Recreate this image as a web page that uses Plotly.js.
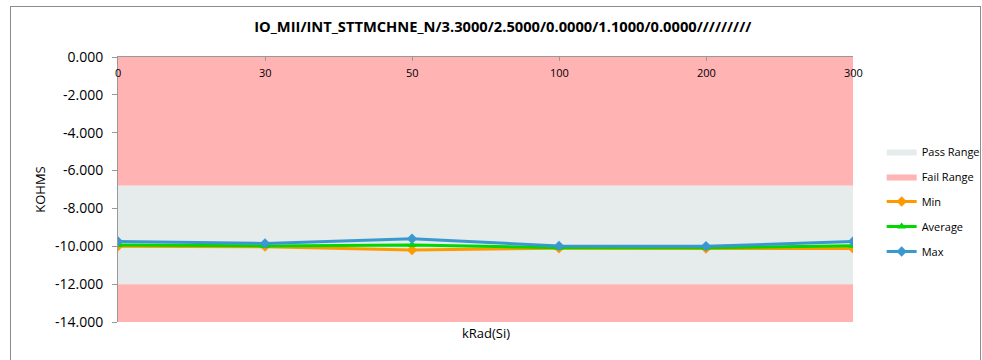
<!DOCTYPE html>
<html>
<head>
<meta charset="utf-8">
<script src="https://cdn.plot.ly/plotly-3.0.1.min.js"></script>
<style>
  html, body { margin: 0; padding: 0; background: #fff; }
  #wrap { position: relative; width: 982px; height: 360px; overflow: hidden; }
  #chart { position: absolute; left: 0; top: 0; width: 982px; height: 360px; }
  #frame { position: absolute; left: 10px; top: 6px; width: 969px; height: 400px; border: 1px solid #8c8c8c; pointer-events: none; }
</style>
</head>
<body>
<div id="wrap">
  <div id="chart"></div>
  <div id="frame"></div>
</div>
<script>
// ---- data ----
const categories = ['0', '30', '50', '100', '200', '300'];
const minValues = [-10.00, -10.02, -10.20, -10.10, -10.12, -10.12];
const avgValues = [-9.93, -9.98, -9.93, -10.08, -10.08, -9.97];
const maxValues = [-9.75, -9.85, -9.60, -9.98, -10.00, -9.75];
const failTop = [0, 0, 0, 0, 0, 0];
const passUpper = [-6.8, -6.8, -6.8, -6.8, -6.8, -6.8];
const passLower = [-12, -12, -12, -12, -12, -12];
const failBottom = [-14, -14, -14, -14, -14, -14];
const yTickVals = [0, -2, -4, -6, -8, -10, -12, -14];
const yTickText = ['0.000', '-2.000', '-4.000', '-6.000', '-8.000', '-10.000', '-12.000', '-14.000'];
const chartTitle = 'IO_MII/INT_STTMCHNE_N/3.3000/2.5000/0.0000/1.1000/0.0000/////////';

const passColor = '#E6EBEB';
const failColor = '#FFB3B3';
const FONT = 'Open Sans, sans-serif';

const traces = [
  { x: categories, y: failTop, mode: 'lines', line: { width: 0, color: failColor }, type: 'scatter', showlegend: false, hoverinfo: 'skip' },
  { x: categories, y: passUpper, mode: 'lines', line: { width: 0, color: failColor }, type: 'scatter', fill: 'tonexty', fillcolor: failColor,
    name: 'Fail Range', legendgroup: 'b', legendrank: 2, hoverinfo: 'skip' },
  { x: categories, y: passLower, mode: 'lines', line: { width: 0, color: passColor }, type: 'scatter', fill: 'tonexty', fillcolor: passColor,
    name: 'Pass Range', legendgroup: 'a', legendrank: 1, hoverinfo: 'skip' },
  { x: categories, y: failBottom, mode: 'lines', line: { width: 0, color: failColor }, type: 'scatter', fill: 'tonexty', fillcolor: failColor,
    showlegend: false, legendgroup: 'b', hoverinfo: 'skip' },
  { x: categories, y: minValues, mode: 'lines+markers', type: 'scatter', name: 'Min', legendgroup: 'c', legendrank: 3,
    line: { color: '#FF9900', width: 3 }, marker: { symbol: 'diamond', size: 8, color: '#FF9900' } },
  { x: categories, y: avgValues, mode: 'lines+markers', type: 'scatter', name: 'Average', legendgroup: 'd', legendrank: 4,
    line: { color: '#00D800', width: 3 }, marker: { symbol: 'triangle-up', size: 8, color: '#00D800' } },
  { x: categories, y: maxValues, mode: 'lines+markers', type: 'scatter', name: 'Max', legendgroup: 'e', legendrank: 5,
    line: { color: '#3A98D0', width: 3 }, marker: { symbol: 'diamond', size: 8, color: '#3A98D0' } }
];

// category tick labels drawn just below the top axis line (category index positions)
const catLabels = categories.map((c, i) => ({
  text: c, xref: 'x', yref: 'y', x: i, y: 0, yshift: -6, xanchor: 'center', yanchor: 'top',
  showarrow: false, font: { family: FONT, size: 11, color: '#000' }
}));

const layout = {
  width: 982, height: 360,
  margin: { l: 118, r: 129, t: 57, b: 38, autoexpand: false },
  paper_bgcolor: '#ffffff',
  plot_bgcolor: '#ffffff',
  font: { family: FONT, size: 12, color: '#000' },
  showlegend: true,
  title: { text: '<b>' + chartTitle + '</b>', font: { family: FONT, size: 14.7, color: '#000' },
           x: 0.512, xanchor: 'center', y: 0.925, yanchor: 'middle' },
  xaxis: {
    type: 'category', range: [0, 5], side: 'top',
    showticklabels: false, ticks: 'inside', ticklen: 4, tickcolor: '#999',
    showline: true, linecolor: '#999', linewidth: 1, showgrid: false, zeroline: false,
    fixedrange: true
  },
  yaxis: {
    range: [-14, 0], tickvals: yTickVals, ticktext: yTickText,
    ticks: 'outside', ticklen: 5, tickcolor: '#999', ticklabelstandoff: 6,
    showline: true, linecolor: '#999', linewidth: 1, showgrid: false, zeroline: false,
    tickfont: { family: FONT, size: 14, color: '#000' },
    title: { text: 'KOHMS', font: { family: FONT, size: 13, color: '#000' }, standoff: 6 },
    fixedrange: true
  },
  legend: {
    x: 1.039, xanchor: 'left', y: 0.698, yanchor: 'top',
    traceorder: 'grouped', tracegroupgap: 6,
    font: { family: FONT, size: 11, color: '#000' },
    bgcolor: 'rgba(0,0,0,0)', itemwidth: 30
  },
  annotations: catLabels.concat([
    { text: 'kRad(Si)', xref: 'paper', yref: 'paper', x: 0.5, y: 0, yshift: -11, xanchor: 'center', yanchor: 'middle',
      showarrow: false, font: { family: FONT, size: 13, color: '#000' } }
  ])
};

Plotly.newPlot('chart', traces, layout, { displayModeBar: false, staticPlot: true });
</script>
</body>
</html>
